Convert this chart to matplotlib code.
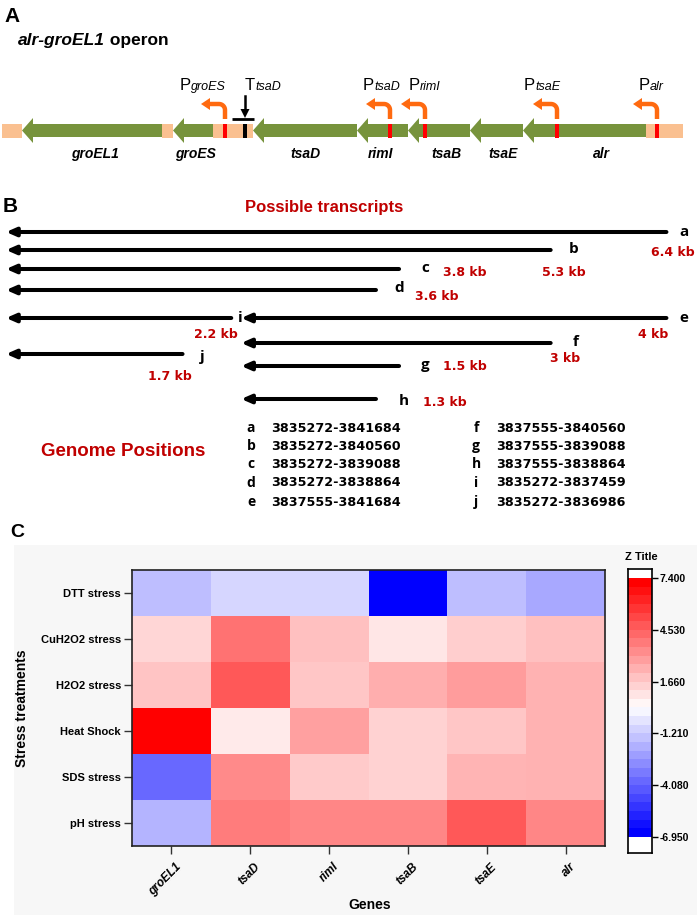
import numpy as np
import matplotlib
matplotlib.use('Agg')
import matplotlib.pyplot as plt
from matplotlib.patches import Rectangle, FancyArrow, Polygon
from matplotlib.colors import ListedColormap, BoundaryNorm, Normalize

plt.rcParams['font.family'] = ['Liberation Sans', 'DejaVu Sans']

# ---------------- data ----------------
operon_genes = ['groEL1', 'groES', 'tsaD', 'rimI', 'tsaB', 'tsaE', 'alr']
gene_tip = [22, 173, 253, 357, 408, 470, 523]          # schematic map units
gene_tail = [162, 213, 357, 408, 470, 523, 646]
spacer_left = [2, 162, 213, 646]
spacer_right = [22, 173, 253, 683]
promoter_names = ['groES', 'tsaD', 'rimI', 'tsaE', 'alr']
promoter_pos = [225, 390, 425, 557, 657]
terminator_name = 'tsaD'
terminator_pos = 245

transcript_ids = ['a', 'b', 'c', 'd', 'e', 'f', 'g', 'h', 'i', 'j']
transcript_start = [3835272, 3835272, 3835272, 3835272, 3837555,
                    3837555, 3837555, 3837555, 3835272, 3835272]
transcript_end = [3841684, 3840560, 3839088, 3838864, 3841684,
                  3840560, 3839088, 3838864, 3837459, 3836986]
transcript_kb = ['6.4', '5.3', '3.8', '3.6', '4', '3', '1.5', '1.3', '2.2', '1.7']

heat_genes = ['groEL1', 'tsaD', 'rimI', 'tsaB', 'tsaE', 'alr']
stress = ['DTT stress', 'CuH2O2 stress', 'H2O2 stress', 'Heat Shock', 'SDS stress', 'pH stress']
dtt = [-1.6, -0.9, -0.9, -6.9, -1.6, -2.2]
cuh2o2 = [1.4, 4.2, 2.0, 0.9, 1.6, 2.0]
h2o2 = [1.9, 4.9, 1.8, 2.5, 3.0, 2.4]
heat = [7.4, 0.8, 2.9, 1.5, 1.8, 2.4]
sds = [-4.0, 3.5, 1.7, 1.5, 2.3, 2.4]
ph = [-1.9, 3.9, 3.6, 3.6, 4.9, 3.6]
z_min, z_max = -6.95, 7.40
z_ticks = [7.400, 4.530, 1.660, -1.210, -4.080, -6.950]

# ---------------- styles / layout ----------------
W, H = 697, 918
GREEN = '#77933C'
PEACH = '#FAC090'
ORANGE = '#FF6A10'
RED = '#FF0000'
DRED = '#C00000'

fig = plt.figure(figsize=(W / 100, H / 100), dpi=100)
ax = fig.add_axes([0, 0, 1, 1], zorder=0)
ax.set_xlim(0, W)
ax.set_ylim(H, 0)
ax.axis('off')

# ================= Panel A =================
ax.text(4, 22, 'A', fontsize=15, fontweight='bold', va='baseline')
t = ax.text(18, 45, 'alr-groEL1', fontsize=12.5, fontweight='bold', style='italic', va='baseline')
ax.annotate(' operon', xy=(1, 0), xycoords=t, fontsize=12.5, fontweight='bold', va='bottom')

ty = 130.5
for l, r in zip(spacer_left, spacer_right):
    ax.add_patch(Rectangle((l, ty - 7), r - l, 14, fc=PEACH, ec='none', zorder=1))
for tip, tail in zip(gene_tip, gene_tail):
    ax.add_patch(FancyArrow(tail, ty, tip - tail, 0, width=13, head_width=25, head_length=11,
                            length_includes_head=True, fc=GREEN, ec='none', zorder=2))
label_dx = [3, 2, 0, -2, 7, 7, 17]
for name, tip, tail, dx in zip(operon_genes, gene_tip, gene_tail, label_dx):
    ax.text((tip + tail) / 2 + dx, 158, name, fontsize=10, fontweight='bold', style='italic',
            ha='center', va='baseline')

# promoters
p_label_dx = [-45, -27, -16, -33, -18]
for name, p, dx in zip(promoter_names, promoter_pos, p_label_dx):
    ax.add_patch(Rectangle((p - 1.6, ty - 7), 3.2, 14, fc=RED, ec='none', zorder=3))
    r = 6
    ang = np.linspace(0, np.pi / 2, 12)
    xs = [p, p] + list(p - r + r * np.cos(ang)) + [p - 15]
    ys = [119, 104 + r] + list(104 + r - r * np.sin(ang)) + [104]
    ax.plot(xs, ys, color=ORANGE, lw=3.2, solid_capstyle='butt', solid_joinstyle='round', zorder=3)
    ax.add_patch(Polygon([(p - 24, 104), (p - 15, 98), (p - 15, 110)], closed=True,
                         fc=ORANGE, ec='none', zorder=3))
    tp = ax.text(p + dx, 93, 'P', fontsize=12, va='bottom')
    ax.annotate(name, xy=(1, 0), xycoords=tp, fontsize=9, style='italic', va='bottom')

# terminator
tp = terminator_pos
ax.add_patch(Rectangle((tp - 1.6, ty - 7), 3.2, 14, fc='black', ec='none', zorder=3))
ax.plot([tp, tp], [96, 111], color='black', lw=1.8, zorder=3)
ax.add_patch(Polygon([(tp, 118), (tp - 4.5, 109), (tp + 4.5, 109)], closed=True, fc='black', ec='none'))
ax.plot([tp - 13, tp + 9], [119, 119], color='black', lw=2, solid_capstyle='butt')
tt = ax.text(tp, 93, 'T', fontsize=12, va='bottom')
ax.annotate(terminator_name, xy=(1, 0), xycoords=tt, fontsize=9, style='italic', va='bottom')

# ================= Panel B =================
ax.text(3, 212, 'B', fontsize=15, fontweight='bold', va='baseline')
ax.text(324, 212, 'Possible transcripts', fontsize=12, fontweight='bold', color=DRED,
        ha='center', va='baseline')

axB = fig.add_axes([0, 0, 1, 1], zorder=1, facecolor='none')
px_per_bp = 0.1030
origin = min(transcript_start)
x_left = origin - 6 / px_per_bp
axB.set_xlim(x_left, x_left + W / px_per_bp)
axB.set_ylim(H, 0)
axB.axis('off')

row_y = [232, 250, 269, 290, 318, 343, 366, 399, 318, 354]
letter_off = [(18, 0), (23, -1), (26, -1), (23, -2), (17, 0), (25, -1), (26, -1), (28, 2), (9, 0), (20, 3)]
kb_off = [(6, 21), (13, 22), (66, 3), (61, 7), (-13, 16), (14, 15), (66, 1), (69, 4), (-15, 16), (-13, 23)]
for tid, s, e, kb, y, lo, ko in zip(transcript_ids, transcript_start, transcript_end, transcript_kb,
                                     row_y, letter_off, kb_off):
    axB.annotate('', xy=(s, y), xytext=(e, y),
                 arrowprops=dict(arrowstyle='-|>,head_length=0.8,head_width=0.35', lw=2.9,
                                 color='black', shrinkA=0, shrinkB=0, mutation_scale=7))
    axB.annotate(tid, xy=(e, y), xytext=(lo[0], -lo[1]), textcoords='offset pixels',
                 fontsize=11, fontweight='bold', fontfamily=['Open Sans', 'DejaVu Sans'],
                 ha='center', va='center')
    axB.annotate(kb + ' kb', xy=(e, y), xytext=(ko[0], -ko[1]), textcoords='offset pixels',
                 fontsize=9, fontweight='bold', fontfamily='DejaVu Sans', color=DRED,
                 ha='center', va='center')

# genome positions table
ax.text(123, 451, 'Genome Positions', fontsize=13.5, fontweight='bold', color=DRED, ha='center', va='center')
table_y = [428, 446, 464, 483, 502]
for k, (tid, s, e) in enumerate(zip(transcript_ids, transcript_start, transcript_end)):
    col, row = divmod(k, 5)
    xl = 251 + col * 225
    ax.text(xl, table_y[row], tid, fontsize=10, fontweight='bold',
            fontfamily=['Open Sans', 'DejaVu Sans'], ha='center', va='center')
    ax.text(xl + 20, table_y[row], f'{s}-{e}', fontsize=9.2, fontweight='bold',
            fontfamily='DejaVu Sans', ha='left', va='center')

# ================= Panel C =================
ax.add_patch(Rectangle((14, 545), 683, 370, fc='#F7F7F7', ec='none', zorder=0))
ax.text(10, 537, 'C', fontsize=14, fontweight='bold', va='baseline')

data = np.array([dtt, cuh2o2, h2o2, heat, sds, ph])
hax = fig.add_axes([132 / W, 1 - 846 / H, 473 / W, 276 / H], zorder=2)
hax.pcolormesh(np.arange(len(heat_genes) + 1), np.arange(len(stress) + 1), data,
               cmap='bwr', norm=Normalize(z_min, z_max))
hax.set_xlim(0, len(heat_genes))
hax.set_ylim(len(stress), 0)
hax.set_xticks(np.arange(len(heat_genes)) + 0.5)
hax.set_yticks(np.arange(len(stress)) + 0.5)
hax.set_yticklabels(stress, fontsize=8, fontweight='bold')
hax.set_xticklabels([])
for i, g in enumerate(heat_genes):
    hax.annotate(g, xy=(i + 0.5, 0), xycoords=('data', 'axes fraction'),
                 xytext=(8, -19), textcoords='offset pixels', fontsize=8.5, fontweight='bold',
                 style='italic', rotation=45, ha='right', va='center', rotation_mode='anchor',
                 annotation_clip=False)
hax.tick_params(axis='both', direction='out', length=6, width=1, color='#333333')
hax.tick_params(axis='y', pad=2)
for sp in hax.spines.values():
    sp.set_linewidth(1.2)
    sp.set_color('#222222')

ax.text(22, 708, 'Stress treatments', fontsize=10, fontweight='bold', rotation=90,
        ha='center', va='center')
ax.text(370, 905, 'Genes', fontsize=10, fontweight='bold', ha='center', va='center')

# colour scale
nlev = 30
levels = np.linspace(z_min, z_max, nlev + 1)
band_cmap = ListedColormap(plt.cm.bwr(np.linspace(0, 1, nlev)))
cax = fig.add_axes([628 / W, 1 - 853 / H, 24 / W, 284 / H], zorder=2, facecolor='white')
per_px = (z_max - z_min) / (837 - 578)
cax.set_ylim(z_min - 16 * per_px, z_max + 9 * per_px)
cax.set_xlim(0, 1)
cax.pcolormesh([0, 1], levels, (levels[:-1] + levels[1:]).reshape(-1, 1) / 2,
               cmap=band_cmap, norm=BoundaryNorm(levels, nlev))
cax.set_xticks([])
cax.yaxis.tick_right()
cax.set_yticks(z_ticks)
cax.set_yticklabels([f'{v:.3f}' for v in z_ticks], fontsize=7.5, fontweight='bold')
cax.tick_params(axis='y', direction='out', length=4, width=1, pad=1.5)
for sp in cax.spines.values():
    sp.set_linewidth(1.2)
ax.text(641, 557, 'Z Title', fontsize=8, fontweight='bold', ha='center', va='center')

fig.savefig('out.png', dpi=100)
